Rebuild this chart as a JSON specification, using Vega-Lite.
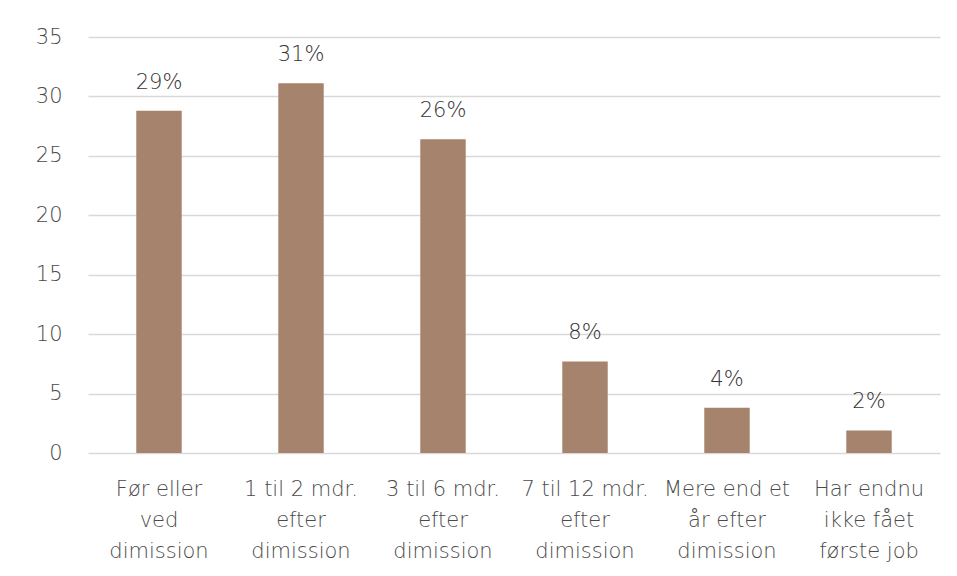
{
  "$schema": "https://vega.github.io/schema/vega-lite/v6.json",
  "autosize": "none",
  "width": 852,
  "height": 416,
  "padding": {"left": 88, "top": 37, "right": 17, "bottom": 123},
  "background": "white",
  "data": {
    "values": [
      {"kategori": "Før eller ved dimission", "pct": 28.8, "label": "29%"},
      {"kategori": "1 til 2 mdr. efter dimission", "pct": 31.1, "label": "31%"},
      {"kategori": "3 til 6 mdr. efter dimission", "pct": 26.4, "label": "26%"},
      {"kategori": "7 til 12 mdr. efter dimission", "pct": 7.7, "label": "8%"},
      {"kategori": "Mere end et år efter dimission", "pct": 3.8, "label": "4%"},
      {"kategori": "Har endnu ikke fået første job", "pct": 1.9, "label": "2%"}
    ]
  },
  "config": {
    "view": {"stroke": null},
    "font": "DejaVu Sans"
  },
  "encoding": {
    "x": {
      "field": "kategori",
      "type": "nominal",
      "sort": null,
      "scale": {"paddingInner": 0.68, "paddingOuter": 0.34},
      "axis": {
        "title": null,
        "labelAngle": 0,
        "labelFontSize": 21,
        "labelFontWeight": 200,
        "labelColor": "#4a4a4a",
        "labelPadding": 25,
        "labelLineHeight": 31,
        "labelExpr": "datum.value == 'Før eller ved dimission' ? ['Før eller', 'ved', 'dimission'] : datum.value == '1 til 2 mdr. efter dimission' ? ['1 til 2 mdr.', 'efter', 'dimission'] : datum.value == '3 til 6 mdr. efter dimission' ? ['3 til 6 mdr.', 'efter', 'dimission'] : datum.value == '7 til 12 mdr. efter dimission' ? ['7 til 12 mdr.', 'efter', 'dimission'] : datum.value == 'Mere end et år efter dimission' ? ['Mere end et', 'år efter', 'dimission'] : ['Har endnu', 'ikke fået', 'første job']",
        "ticks": false,
        "domain": false,
        "labelFont": "DejaVu Sans"
      }
    },
    "y": {
      "field": "pct",
      "type": "quantitative",
      "scale": {"domain": [0, 35]},
      "axis": {
        "title": null,
        "values": [0, 5, 10, 15, 20, 25, 30, 35],
        "labelFontSize": 21,
        "labelFontWeight": 200,
        "labelColor": "#4a4a4a",
        "labelPadding": 26,
        "ticks": false,
        "domain": false,
        "gridColor": "#d9d9d9",
        "gridWidth": 1.5,
        "labelFont": "DejaVu Sans"
      }
    }
  },
  "layer": [
    {"mark": {"type": "bar", "color": "#a5836d"}},
    {
      "mark": {"type": "text", "dy": -28, "fontSize": 21, "fontWeight": 200, "color": "#333333", "font": "DejaVu Sans"},
      "encoding": {"text": {"field": "label"}}
    }
  ]
}
